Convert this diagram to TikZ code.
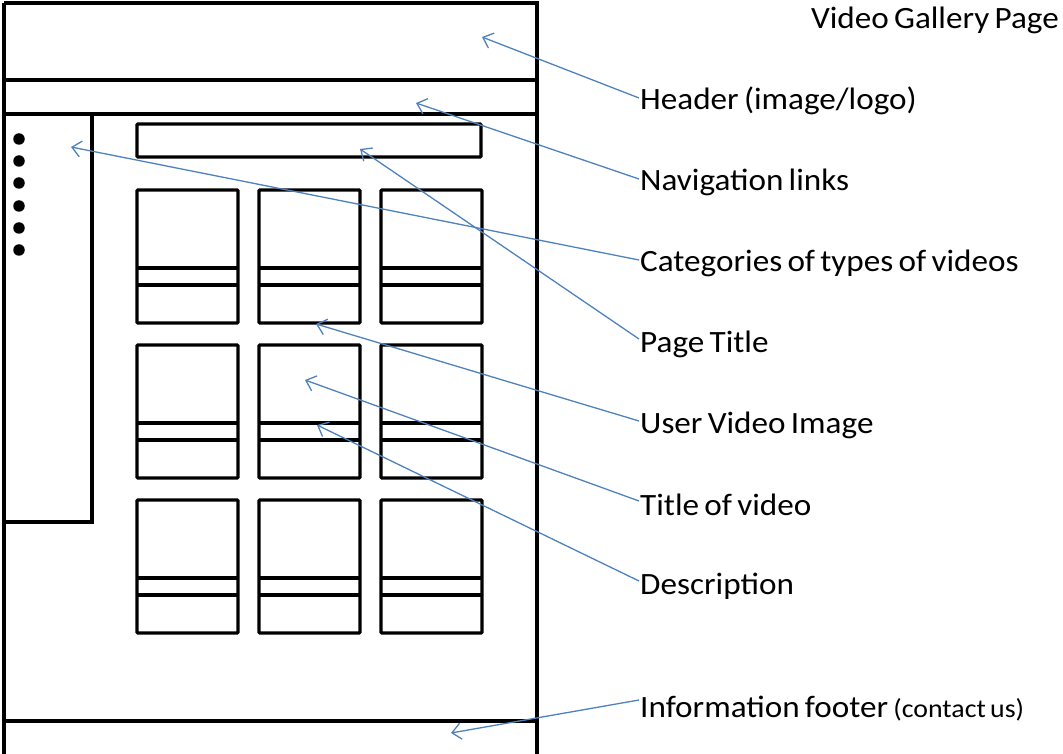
\documentclass[tikz,border=0pt]{standalone}
\usepackage{fontspec}
\setmainfont{Carlito}[FakeStretch=1.07, WordSpace=0.7]
\usetikzlibrary{arrows.meta}
\definecolor{callout}{RGB}{79,129,189}
\tikzset{
  frame/.style={draw=black, line width=3.2pt},
  part/.style={draw=black, line width=3.2pt, rounded corners=1pt},
  lbl/.style={anchor=west, inner sep=1pt, font=\fontsize{31}{36}\selectfont},
  pointer/.style={draw=callout, line width=1.3pt,
    -{Straight Barb[length=9pt,width=16pt,line width=1.3pt]}},
  bullet/.style={circle, fill=black, inner sep=0pt, minimum size=11.5pt}
}
\newcommand{\card}[3]{% name, left x, top y
  \draw[part] (#2,#3) rectangle ++(101,133);
  \draw[part] (#2,#3+78) -- ++(101,0);
  \draw[part] (#2,#3+95) -- ++(101,0);
  \coordinate (#1) at (#2,#3);
}
\begin{document}
\begin{tikzpicture}[x=1pt,y=-1pt]
  \useasboundingbox (0,0) rectangle (1063,754);

  % page outline with header, navigation bar and footer
  \draw[frame] (4,3) -- (537,3) -- (537,756) (4,756) -- (4,3);
  \draw[frame] (4,80) -- (537,80);
  \draw[frame] (4,114) -- (537,114);
  \draw[frame] (4,721) -- (537,721);

  % category sidebar
  \draw[frame] (92,114) -- (92,522) -- (4,522);
  \foreach \y [count=\i] in {139,161,183,206,228,250}
    \node[bullet] (dot\i) at (19,\y) {};

  % page title bar
  \draw[part] (137,124) rectangle (481,157);

  % grid of video cards
  \foreach \r/\ty in {1/190,2/345,3/500}
    \foreach \c/\tx in {1/137,2/259,3/381}
      \card{card\r\c}{\tx}{\ty};

  % labels
  \node[anchor=east, inner sep=1pt, font=\fontsize{31}{36}\selectfont] (title) at (1060,20) {Video Gallery Page};
  \node[lbl] (header)  at (639,101) {Header (image/logo)};
  \node[lbl] (nav)     at (639,182) {Navigation links};
  \node[lbl] (cats)    at (639,263) {Categories of types of videos};
  \node[lbl] (ptitle)  at (639,344) {Page Title};
  \node[lbl] (uvimg)   at (639,425) {User Video Image};
  \node[lbl] (vtitle)  at (639,505) {Title of video};
  \node[lbl] (descr)   at (639,586) {Description};
  \node[lbl] (footer)  at (639,709) {Information footer {\fontsize{26}{30}\selectfont(contact us)}};

  % pointer targets
  \coordinate (tHeader) at (482,37);
  \coordinate (tNav)    at (416,103);
  \coordinate (tCats)   at (71,147);
  \coordinate (tPTitle) at (360,149);
  \coordinate (tUVImg)  at (316,324);
  \coordinate (tVTitle) at (305,380);
  \coordinate (tDescr)  at (317,425);
  \coordinate (tFooter) at (451,733);

  % pointers
  \draw[pointer] ([yshift=3pt]header.west) -- (tHeader);
  \draw[pointer] ([yshift=3pt]nav.west)    -- (tNav);
  \draw[pointer] ([yshift=3pt]cats.west)   -- (tCats);
  \draw[pointer] ([yshift=5pt]ptitle.west) -- (tPTitle);
  \draw[pointer] ([yshift=4pt]uvimg.west)  -- (tUVImg);
  \draw[pointer] ([yshift=4pt]vtitle.west) -- (tVTitle);
  \draw[pointer] ([yshift=5pt]descr.west)  -- (tDescr);
  \draw[pointer] ([yshift=9pt]footer.west) -- (tFooter);
\end{tikzpicture}
\end{document}
